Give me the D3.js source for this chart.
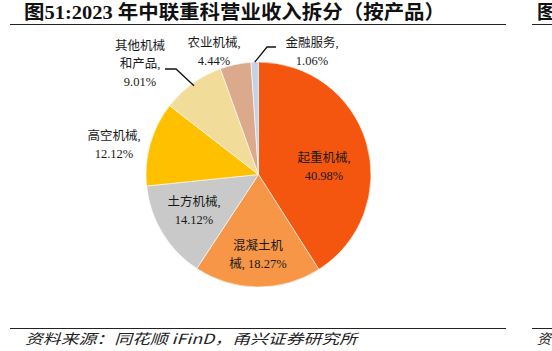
<!DOCTYPE html>
<html><head><meta charset="utf-8">
<script src="https://cdn.jsdelivr.net/npm/d3@7"></script>
<style>body{margin:0;background:#fff}svg{display:block}</style>
</head><body>
<svg id="c" width="552" height="351"></svg>
<script>
const categories = ["起重机械","混凝土机械","土方机械","高空机械","其他机械和产品","农业机械","金融服务"];
const values = [40.98, 18.27, 14.12, 12.12, 9.01, 4.44, 1.06];
const colors = ["#F5560F","#F79646","#C9C9C9","#FFC000","#F2DC9A","#DBA98B","#C6D0E6"];
// label lines as displayed (line breaks), per slice
const labelLines = [
  ["起重机械,","40.98%"],
  ["混凝土机","械, 18.27%"],
  ["土方机械,","14.12%"],
  ["高空机械,","12.12%"],
  ["其他机械","和产品,","9.01%"],
  ["农业机械,","4.44%"],
  ["金融服务,","1.06%"]
];
const title = "图51:2023 年中联重科营业收入拆分（按产品）";
const source = "资料来源：同花顺 iFinD，甬兴证券研究所";

const svg = d3.select("#c");
const cx = 258.5, cy = 174.5, R = 112.5;
const lblFont = "'Liberation Serif','Noto Sans CJK SC',serif";

// title + rules
svg.append("text").attr("x",24).attr("y",19)
  .attr("font-family","'Liberation Serif','Noto Sans CJK SC',serif")
  .attr("font-weight","bold").attr("font-size",19.5).attr("fill","#111")
  .attr("textLength",421).attr("lengthAdjust","spacingAndGlyphs")
  .text(title);
svg.append("text").attr("x",537).attr("y",19)
  .attr("font-family","'Noto Sans CJK SC',sans-serif")
  .attr("font-weight","bold").attr("font-size",19.5).attr("fill","#111").text("图");
[[10,506],[532,552]].forEach(([a,b])=>{
  svg.append("line").attr("x1",a).attr("x2",b).attr("y1",24.5).attr("y2",24.5).attr("stroke","#222").attr("stroke-width",1);
  svg.append("line").attr("x1",a).attr("x2",b).attr("y1",328.5).attr("y2",328.5).attr("stroke","#222").attr("stroke-width",1);
});
svg.append("text").attr("x",25).attr("y",344)
  .attr("font-family","'Noto Sans CJK SC',sans-serif").attr("font-style","italic")
  .attr("font-size",14).attr("fill","#222")
  .attr("textLength",332).attr("lengthAdjust","spacingAndGlyphs")
  .text(source);
svg.append("text").attr("x",537).attr("y",344)
  .attr("font-family","'Noto Sans CJK SC',sans-serif").attr("font-style","italic")
  .attr("font-size",14).attr("fill","#222").text("资");

// pie
const pie = d3.pie().sort(null).startAngle(0).endAngle(2*Math.PI);
const arcs = pie(values);
const arc = d3.arc().innerRadius(0).outerRadius(R);
const g = svg.append("g").attr("transform",`translate(${cx},${cy})`);
g.selectAll("path").data(arcs).join("path")
  .attr("d",arc).attr("fill",(d,i)=>colors[i])
  .attr("stroke","#fff").attr("stroke-width",0.6);

const labelPos = [
  {x:324, y:158},
  {x:258, y:246},
  {x:194, y:202},
  {x:114, y:136},
  {x:140, y:46},
  {x:214, y:43},
  {x:312, y:43}
];
const lineH = 18;
labelLines.forEach((lines,i)=>{
  const t = svg.append("text").attr("font-family",lblFont).attr("font-size",12.5)
    .attr("fill","#1a1a1a").attr("text-anchor","middle");
  lines.forEach((s,j)=>{
    t.append("tspan").attr("x",labelPos[i].x).attr("y",labelPos[i].y + 4 + j*lineH).text(s);
  });
});

// leader lines to small slices
function edgePoint(i, f){
  const a = (arcs[i].startAngle + arcs[i].endAngle)/2;
  return [cx + Math.sin(a)*R*f, cy - Math.cos(a)*R*f];
}
const p4 = edgePoint(4, 0.975);
svg.append("polyline").attr("points",[[165,69],[176,69],p4].map(p=>p.join(",")).join(" "))
  .attr("fill","none").attr("stroke","#111").attr("stroke-width",1.3);
const p6 = edgePoint(6, 1.0);
svg.append("polyline").attr("points",[[276,47],[267,47],p6].map(p=>p.join(",")).join(" "))
  .attr("fill","none").attr("stroke","#111").attr("stroke-width",1.3);
</script>
</body></html>
